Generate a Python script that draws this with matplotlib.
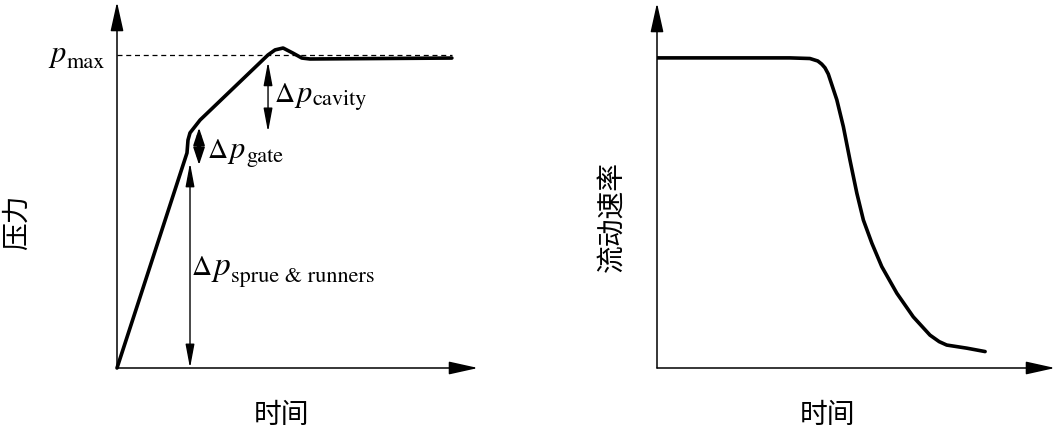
import matplotlib
matplotlib.use("Agg")
import matplotlib.pyplot as plt

plt.rcParams['font.family'] = ['Noto Sans CJK SC', 'DejaVu Sans']
plt.rcParams['mathtext.fontset'] = 'stix'

# left panel: pressure vs time (relative units, p_max = 1)
p_time = [0.0, 0.209, 0.212, 0.218, 0.248, 0.451, 0.472, 0.496, 0.525, 0.552, 0.576, 1.0]
p_value = [0.0, 0.687, 0.728, 0.751, 0.792, 1.0, 1.016, 1.022, 1.006, 0.990, 0.987, 0.990]
p_max = 1.0
t_end = 1.0

# pressure-drop markers: (time, low, high)
drop_sprue = (0.218, 0.0, 0.655)
drop_gate = (0.245, 0.649, 0.767)
drop_cavity = (0.451, 0.754, 0.978)

# right panel: flow rate vs time (relative units)
q_time = [0.0, 0.405, 0.466, 0.490, 0.502, 0.512, 0.522, 0.548, 0.568, 0.588, 0.609, 0.629,
          0.655, 0.685, 0.731, 0.781, 0.832, 0.860, 0.883, 0.944, 1.0]
q_value = [1.0, 1.0, 0.998, 0.990, 0.980, 0.968, 0.948, 0.865, 0.778, 0.671, 0.564, 0.477,
           0.402, 0.327, 0.241, 0.165, 0.106, 0.085, 0.074, 0.064, 0.053]

W, H = 1056, 430
fig = plt.figure(figsize=(W / 100, H / 100), dpi=100)

ax1 = fig.add_axes([117 / W, (H - 368) / H, 361 / W, 366 / H])
ax2 = fig.add_axes([657 / W, (H - 368) / H, 398 / W, 365 / H])


def setup_axes(ax, xmax, ymax):
    ax.set_xlim(0, xmax)
    ax.set_ylim(0, ymax)
    for s in ax.spines.values():
        s.set_visible(False)
    ax.set_xticks([])
    ax.set_yticks([])
    ax.patch.set_alpha(0)
    arrow = dict(arrowstyle='-|>,head_length=0.9,head_width=0.2', lw=1.1,
                 color='black', mutation_scale=20, shrinkA=0, shrinkB=0)
    ax.annotate('', xy=(1, 0), xytext=(0, 0), xycoords='axes fraction',
                arrowprops=arrow, annotation_clip=False)
    ax.annotate('', xy=(0, 1), xytext=(0, 0), xycoords='axes fraction',
                arrowprops=arrow, annotation_clip=False)


setup_axes(ax1, 1.078, 1.169)
setup_axes(ax2, 1.213, 1.177)

# left curve
ax1.plot([0, t_end], [p_max, p_max], ls=(0, (4, 3)), lw=0.9, color='black')
ax1.plot(p_time, p_value, color='black', lw=2.6, solid_joinstyle='round',
         solid_capstyle='round', clip_on=False)


def drop_arrow(ax, d, lw, hl, hw):
    ax.annotate('', xy=(d[0], d[2]), xytext=(d[0], d[1]),
                arrowprops=dict(arrowstyle=f'<|-|>,head_length={hl},head_width={hw}',
                                lw=lw, color='black', mutation_scale=18,
                                shrinkA=0, shrinkB=0),
                annotation_clip=False)


drop_arrow(ax1, drop_sprue, 1.0, 0.8, 0.15)
drop_arrow(ax1, drop_cavity, 1.0, 0.8, 0.15)
# gate arrow: thick shaft with narrow heads
drop_arrow(ax1, drop_gate, 1.2, 0.6, 0.2)
g_pad = 0.2 * (drop_gate[2] - drop_gate[1])
ax1.plot([drop_gate[0]] * 2, [drop_gate[1] + g_pad, drop_gate[2] - g_pad],
         color='black', lw=3.2, solid_capstyle='butt')

SERIF = 'STIXGeneral'


def sub_label(ax, x, y, sub, delta=True, p_size=22, sub_drop=-4):
    # Δ + italic p + roman subscript, chained left to right
    if delta:
        d = ax.text(x, y, 'Δ', family=SERIF, fontsize=20, va='baseline', ha='left')
        p = ax.annotate('p', xy=(1, y), xycoords=(d, 'data'), xytext=(1, 0),
                        textcoords='offset points', family=SERIF, style='italic',
                        fontsize=p_size, va='baseline', ha='left')
    else:
        p = ax.text(x, y, 'p', family=SERIF, style='italic', fontsize=p_size,
                    va='baseline', ha='left')
    ax.annotate(sub, xy=(1, y), xycoords=(p, 'data'), xytext=(0.8, sub_drop),
                textcoords='offset points', family=SERIF, fontsize=16,
                va='baseline', ha='left')


sub_label(ax1, -0.200, 0.978, 'max', delta=False, sub_drop=-4.5)
sub_label(ax1, 0.472, 0.850, 'cavity', sub_drop=-2.5)
sub_label(ax1, 0.272, 0.671, 'gate', sub_drop=-3)
sub_label(ax1, 0.224, 0.297, 'sprue & runners', p_size=24, sub_drop=-5)

# right curve
ax2.plot(q_time, q_value, color='black', lw=2.6, solid_joinstyle='round',
         solid_capstyle='round')

# labels
fig.text(17 / W, 1 - 222 / H, '压力', rotation=90, ha='center', va='center', fontsize=20)
fig.text(282 / W, 1 - 415 / H, '时间', ha='center', va='center', fontsize=20)
fig.text(612 / W, 1 - 217 / H, '流动速率', rotation=90, ha='center', va='center', fontsize=20)
fig.text(828 / W, 1 - 415 / H, '时间', ha='center', va='center', fontsize=20)

fig.savefig('out.png', dpi=100)
